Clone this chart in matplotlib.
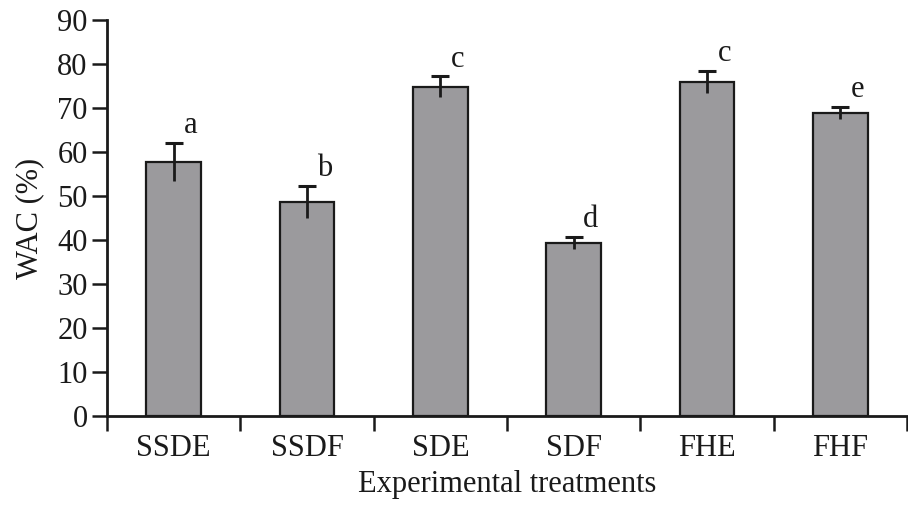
import matplotlib
matplotlib.use("Agg")
import matplotlib.pyplot as plt
import numpy as np

categories = ["SSDE", "SSDF", "SDE", "SDF", "FHE", "FHF"]
wac = [57.7, 48.7, 74.8, 39.3, 75.9, 68.9]
err = [4.4, 3.6, 2.4, 1.4, 2.5, 1.3]
letters = ["a", "b", "c", "d", "c", "e"]
yticks = [0, 10, 20, 30, 40, 50, 60, 70, 80, 90]

plt.rcParams['font.family'] = ['Liberation Serif', 'DejaVu Serif']

fig = plt.figure(figsize=(9.08, 5.07), dpi=100)
ax = fig.add_axes([107/908, 91/507, 800/908, 396/507])

x = np.arange(len(categories))
vals = np.array(wac)
errs = np.array(err)

ax.bar(x, vals, width=0.41, color="#9b9a9d", edgecolor="#1a1a1a", linewidth=1.6, zorder=2)
ax.errorbar(x, vals, yerr=errs, fmt='none', ecolor="#1a1a1a", elinewidth=2.0, capsize=0, zorder=3)
ax.plot(x, vals + errs, linestyle='none', marker='_', markersize=13, markeredgewidth=2.2,
        color="#1a1a1a", zorder=3)

for xi, top, lab in zip(x, vals + errs, letters):
    ax.text(xi + 0.13, top + 0.6, lab, ha='center', va='bottom', fontsize=22, color="#1a1a1a")

ax.set_xlim(-0.5, 5.5)
ax.set_ylim(0, 90)
ax.set_yticks(yticks)
ax.set_yticklabels([str(v) for v in yticks], fontsize=22, color="#1a1a1a")

ax.set_xticks(x)
ax.set_xticklabels(categories, fontsize=22, color="#1a1a1a")
ax.tick_params(axis='x', which='major', length=0, pad=13)
ax.set_xticks(np.arange(-0.5, 6.0, 1.0), minor=True)
ax.tick_params(axis='x', which='minor', length=11, width=1.8, direction='out', color="#1a1a1a")
ax.tick_params(axis='y', length=11, width=1.8, direction='out', pad=3, color="#1a1a1a")

for s in ['top', 'right']:
    ax.spines[s].set_visible(False)
for s in ['left', 'bottom']:
    ax.spines[s].set_linewidth(2.0)
    ax.spines[s].set_color("#1a1a1a")

ax.set_ylabel("WAC (%)", fontsize=22, color="#1a1a1a", labelpad=9)
ax.set_xlabel("Experimental treatments", fontsize=22, color="#1a1a1a", labelpad=5)

fig.savefig("out.png", dpi=100)
